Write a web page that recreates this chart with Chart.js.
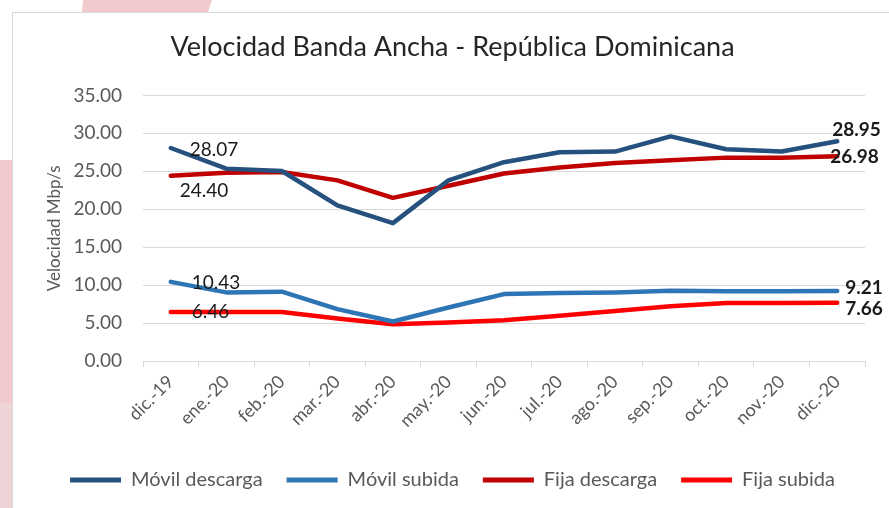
<!DOCTYPE html>
<html>
<head>
<meta charset="utf-8">
<script src="https://cdn.jsdelivr.net/npm/chart.js@4/dist/chart.umd.min.js"></script>
<style>
  html, body { margin: 0; padding: 0; background: #fff; width: 889px; height: 508px; overflow: hidden; position: relative; }
  .band { position: absolute; left: 82px; top: 0; width: 131px; height: 12px; background: #F2C9CC;
          clip-path: polygon(1px 0, 130px 0, 126px 12px, 0 12px); }
  .strip1 { position: absolute; left: 0; top: 160px; width: 12px; height: 243px; background: #F2CACD; }
  .strip2 { position: absolute; left: 0; top: 403px; width: 12px; height: 105px; background: #EED4D7; }
  .frame { position: absolute; left: 12px; top: 12px; width: 900px; height: 520px; border: 1px solid #D9D9D9; background: #fff; }
  #wrap { position: absolute; left: 0; top: 0; width: 889px; height: 508px; }
</style>
</head>
<body>
<div class="band"></div>
<div class="strip1"></div>
<div class="strip2"></div>
<div class="frame"></div>
<div id="wrap"><canvas id="chart" width="889" height="508"></canvas></div>
<script>
// Months on the category axis
const months = ['dic.-19', 'ene.-20', 'feb.-20', 'mar.-20', 'abr.-20', 'may.-20', 'jun.-20',
                'jul.-20', 'ago.-20', 'sep.-20', 'oct.-20', 'nov.-20', 'dic.-20'];

// Speeds in Mbp/s
const movilDescarga = [28.07, 25.35, 25.04, 20.50, 18.17, 23.80, 26.20, 27.50, 27.60, 29.60, 27.90, 27.60, 28.95];
const movilSubida   = [10.43, 9.04, 9.13, 6.83, 5.20, 7.05, 8.82, 8.95, 9.04, 9.26, 9.20, 9.20, 9.21];
const fijaDescarga  = [24.40, 24.80, 24.90, 23.80, 21.50, 23.10, 24.70, 25.50, 26.10, 26.45, 26.80, 26.80, 26.98];
const fijaSubida    = [6.46, 6.46, 6.46, 5.60, 4.85, 5.07, 5.38, 5.95, 6.60, 7.20, 7.63, 7.63, 7.66];

// Y axis tick values
const yTicks = [0, 5, 10, 15, 20, 25, 30, 35];

const seriesNames = ['Móvil descarga', 'Móvil subida', 'Fija descarga', 'Fija subida'];
const seriesColors = ['#26507D', '#2E75B6', '#C00000', '#FF0000'];

// Value labels at the first and last month: [series, point, dx, dy, bold]
const valueLabels = [
  [0, 0, 19, 2, false],
  [2, 0, 9, 15, false],
  [1, 0, 21, 1, false],
  [3, 0, 21, 0, false],
  [0, 12, -5, -11, true],
  [2, 12, -7, 1, true],
  [1, 12, 8, -3, true],
  [3, 12, 8, 6, true]
];

const FONT = 'Lato, "Open Sans", sans-serif';

const labelPlugin = {
  id: 'valueLabels',
  afterDatasetsDraw(chart) {
    const ctx = chart.ctx;
    ctx.save();
    ctx.fillStyle = '#1a1a1a';
    ctx.textAlign = 'left';
    ctx.textBaseline = 'middle';
    valueLabels.forEach(([s, i, dx, dy, bold]) => {
      const el = chart.getDatasetMeta(s).data[i];
      const v = chart.data.datasets[s].data[i];
      ctx.font = (bold ? 'bold ' : '') + '19px ' + FONT;
      ctx.fillText(v.toFixed(2), el.x + dx, el.y + dy);
    });
    ctx.restore();
  }
};

const values = [movilDescarga, movilSubida, fijaDescarga, fijaSubida];

new Chart(document.getElementById('chart'), {
  type: 'line',
  data: {
    labels: months,
    datasets: values.map((d, k) => ({
      label: seriesNames[k],
      data: d,
      borderColor: seriesColors[k],
      backgroundColor: seriesColors[k],
      borderWidth: 4.5,
      pointRadius: 0,
      tension: 0,
      borderCapStyle: 'round',
      borderJoinStyle: 'round'
    }))
  },
  options: {
    responsive: false,
    animation: false,
    layout: { padding: { left: 40, right: 24, top: 14, bottom: 8 } },
    plugins: {
      title: {
        display: true,
        text: 'Velocidad Banda Ancha - República Dominicana',
        color: '#262626',
        font: { family: FONT, size: 27, weight: 'normal' },
        padding: { top: 17, bottom: 32 }
      },
      legend: {
        position: 'bottom',
        labels: {
          color: '#595959',
          font: { family: FONT, size: 20 },
          boxWidth: 51,
          boxHeight: 5,
          padding: 24,
          generateLabels: (chart) => chart.data.datasets.map((ds, k) => ({
            text: ds.label,
            fillStyle: ds.borderColor,
            strokeStyle: ds.borderColor,
            lineWidth: 0,
            fontColor: '#595959',
            datasetIndex: k
          }))
        }
      },
      tooltip: { enabled: false }
    },
    scales: {
      x: {
        offset: true,
        grid: { display: true, drawOnChartArea: false, drawTicks: true, tickLength: 6, color: '#D9D9D9', offset: true },
        border: { display: true, color: '#D9D9D9' },
        ticks: { color: '#595959', font: { family: FONT, size: 18 }, minRotation: 45, maxRotation: 45, autoSkip: false, padding: 4 },
        afterFit: (s) => { s.height = 85; }
      },
      y: {
        min: 0,
        max: 35,
        afterBuildTicks: (s) => { s.ticks = yTicks.map(v => ({ value: v })); },
        grid: { color: '#D9D9D9', drawTicks: false },
        border: { display: false },
        ticks: { color: '#595959', font: { family: FONT, size: 19 }, padding: 21, callback: (v) => Number(v).toFixed(2) },
        title: { display: true, text: 'Velocidad Mbp/s', color: '#595959', font: { family: FONT, size: 17 }, padding: { top: 4, bottom: 4 } },
        afterFit: (s) => { s.width = 103; }
      }
    }
  },
  plugins: [labelPlugin]
});
</script>
</body>
</html>
